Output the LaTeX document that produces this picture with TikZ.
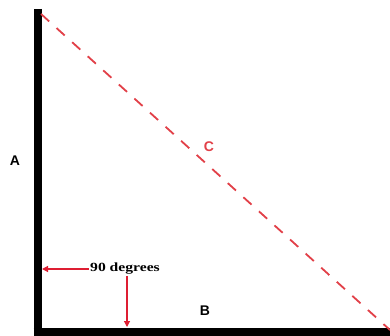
\documentclass[tikz,border=0pt]{standalone}
\usepackage{fontspec}
\setmainfont{Liberation Sans}
\newfontfamily\degfont[FakeStretch=1.25]{Liberation Serif}
\usetikzlibrary{arrows.meta}
\definecolor{linered}{RGB}{226,64,72}
\definecolor{arrred}{RGB}{222,30,50}
\tikzset{
  side/.style={line width=8pt, black},
  hyp/.style={linered, line width=1.8pt, dash pattern=on 11pt off 10pt},
  lbl/.style={font=\fontsize{14}{14}\selectfont\bfseries, inner sep=0pt},
  pointer/.style={arrred, line width=1.2pt, -{Triangle[length=6pt,width=6pt]}},
}
\begin{document}
\begin{tikzpicture}[x=1pt,y=-1pt]
\useasboundingbox (0,0) rectangle (390,336);
\fill[white] (0,0) rectangle (390,336);
\coordinate (top) at (37.5,9);
\coordinate (corner) at (37.5,332);
\coordinate (right) at (392,332);
\coordinate (hs) at (41,14);
\coordinate (he) at (390,330);
\draw[side] (top) -- (37.5,336);
\draw[side] (33.5,332) -- (right);
\draw[hyp] (hs) -- (he);
\node[lbl] (A) at (15,161) {A};
\node[lbl] (B) at (205,311) {B};
\node[lbl, text=linered] (C) at (209,147) {C};
\node[inner sep=1pt, font=\degfont\fontsize{12.5}{12.5}\selectfont\bfseries] (deg) at (125,269) {90 degrees};
\coordinate (leftend) at (42,269);
\coordinate (downend) at (127,327);
\draw[pointer] (deg.west) -- (leftend);
\draw[pointer] (deg.south -| downend) -- (downend);
\end{tikzpicture}
\end{document}
